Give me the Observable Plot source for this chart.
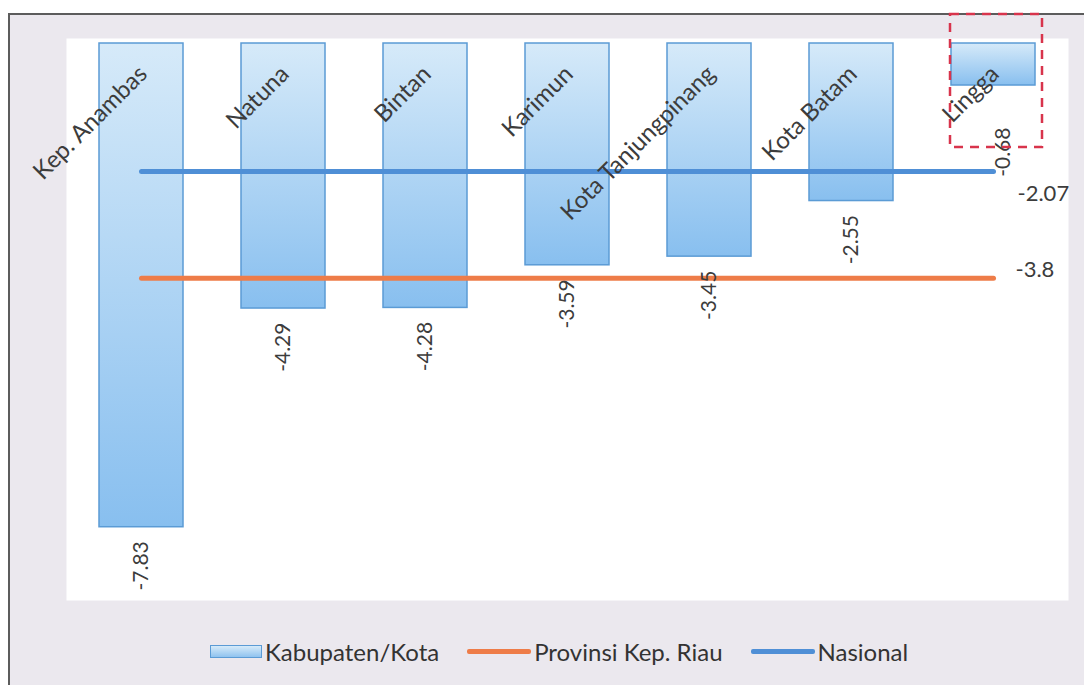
<!DOCTYPE html>
<html>
<head>
<meta charset="utf-8">
<script src="https://cdn.jsdelivr.net/npm/d3@7"></script>
<script src="https://cdn.jsdelivr.net/npm/@observablehq/plot@0.6"></script>
<style>
  html, body { margin: 0; padding: 0; background: #ffffff; }
  #wrap { position: relative; width: 1084px; height: 685px; overflow: hidden; font-family: Lato, "Open Sans", sans-serif; }
  #panel { position: absolute; left: 8px; top: 13px; width: 1120px; height: 720px; background: #ebe8ee;
           border-left: 2px solid #5c5c5c; border-top: 2px solid #5c5c5c; }
  #chart { position: absolute; left: 0; top: 0; }
  #legend { position: absolute; left: 210px; top: 631px; height: 40px; display: flex; align-items: center;
            font-size: 24px; color: #333333; white-space: nowrap; }
  .item { display: flex; align-items: center; margin-right: 28px; }
  .sw-bar { width: 50px; height: 11px; border: 1.5px solid #5b9bd5; background: linear-gradient(#d6eaf9, #8fc3ef); margin-right: 3px; }
  .sw-line { width: 64px; height: 5px; margin-right: 3px; border-radius: 2px; }
</style>
</head>
<body>
<div id="wrap">
  <div id="panel"></div>
  <div id="chart"></div>
  <div id="legend"></div>
</div>
<script>
// ---- data ----
const categories = ["Kep. Anambas", "Natuna", "Bintan", "Karimun", "Kota Tanjungpinang", "Kota Batam", "Lingga"];
const values = [-7.83, -4.29, -4.28, -3.59, -3.45, -2.55, -0.68];
const provinsiValue = -3.8;
const nasionalValue = -2.07;
const seriesNames = ["Kabupaten/Kota", "Provinsi Kep. Riau", "Nasional"];
const highlighted = "Lingga";

// ---- styles ----
const colBarStroke = "#5b9bd5";
const colProv = "#ee7c48";
const colNas = "#4f8fd6";
const colText = "#3c3c3c";

const data = categories.map((name, i) => ({ name, value: values[i] }));
const normal = data.filter(d => d.name !== highlighted);
const special = data.filter(d => d.name === highlighted);

const chart = Plot.plot({
  width: 1084,
  height: 615,
  marginLeft: 66,
  marginRight: 16,
  marginTop: 38,
  marginBottom: 15,
  x: { domain: categories, axis: null, paddingInner: 0.41, paddingOuter: 0.22 },
  y: { domain: [-9.016, 0.081], axis: null },
  style: { background: "transparent", fontFamily: "Lato, 'Open Sans', sans-serif", color: colText, overflow: "visible" },
  marks: [
    Plot.frame({ fill: "white", stroke: null }),
    Plot.barY(data, { x: "name", y: "value", fill: "url(#barGrad)", stroke: colBarStroke, strokeWidth: 1.5 }),
    Plot.lineY(categories, { x: d => d, y: () => provinsiValue, stroke: colProv, strokeWidth: 5, strokeLinecap: "round" }),
    Plot.lineY(categories, { x: d => d, y: () => nasionalValue, stroke: colNas, strokeWidth: 5, strokeLinecap: "round" }),
    Plot.text(categories, { x: d => d, text: d => d, frameAnchor: "top", rotate: -45, textAnchor: "end", lineAnchor: "bottom",
      dx: 7, dy: 37, fontSize: 24, fill: colText }),
    Plot.text(normal, { x: "name", y: "value", text: d => String(d.value), rotate: -90, textAnchor: "end",
      dy: 14, fontSize: 21, fill: colText }),
    Plot.text(special, { x: "name", y: "value", text: d => String(d.value), rotate: -90, textAnchor: "end",
      dx: 10, dy: 42, fontSize: 21, fill: colText }),
    Plot.text([nasionalValue], { x: () => categories[categories.length - 1], y: d => d, text: d => String(d),
      textAnchor: "start", dx: 24, dy: 23, fontSize: 22, fill: colText }),
    Plot.text([provinsiValue], { x: () => categories[categories.length - 1], y: d => d, text: d => String(d),
      textAnchor: "start", dx: 22, dy: -8, fontSize: 22, fill: colText })
  ]
});

// gradient for bars
const svg = d3.select(chart);
const defs = svg.insert("defs", ":first-child");
const g = defs.append("linearGradient").attr("id", "barGrad").attr("x1", 0).attr("y1", 0).attr("x2", 0).attr("y2", 1);
g.append("stop").attr("offset", "0%").attr("stop-color", "#d6eaf9");
g.append("stop").attr("offset", "100%").attr("stop-color", "#88bfef");

// dashed highlight box around the highlighted category
const xs = chart.scale("x"), ys = chart.scale("y");
const bx = xs.apply(highlighted);
const bw = xs.bandwidth;
const hv = values[categories.indexOf(highlighted)];
svg.append("rect")
  .attr("x", bx - 1).attr("y", 14)
  .attr("width", bw + 8).attr("height", ys.apply(hv) + 62 - 14)
  .attr("fill", "none").attr("stroke", "#d8344c").attr("stroke-width", 2.5).attr("stroke-dasharray", "9,7");

document.getElementById("chart").appendChild(chart);

// legend
const legend = d3.select("#legend");
const sw = [
  el => el.append("div").attr("class", "sw-bar"),
  el => el.append("div").attr("class", "sw-line").style("background", colProv),
  el => el.append("div").attr("class", "sw-line").style("background", colNas)
];
seriesNames.forEach((name, i) => {
  const it = legend.append("div").attr("class", "item");
  sw[i](it);
  it.append("span").text(name);
});
</script>
</body>
</html>
